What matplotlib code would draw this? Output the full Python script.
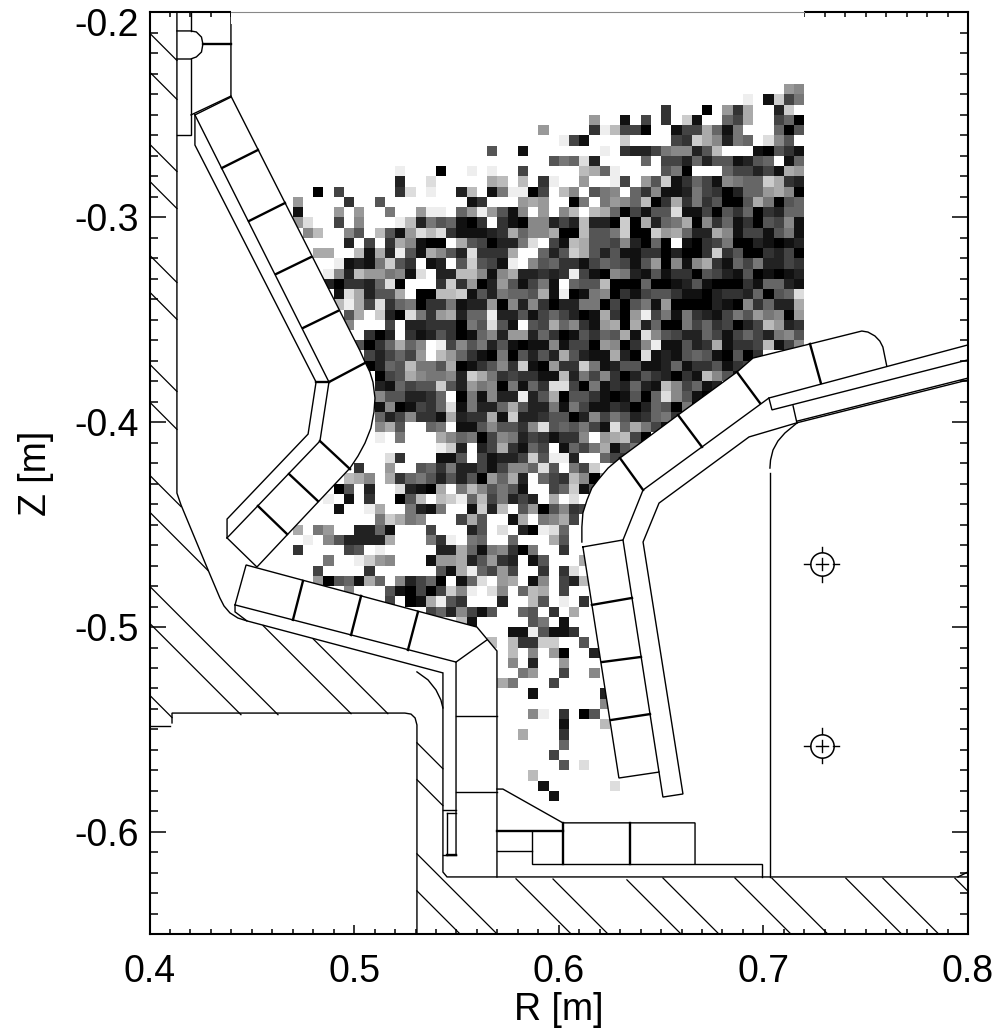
import numpy as np
import matplotlib
matplotlib.use('Agg')
import matplotlib.pyplot as plt
from matplotlib.ticker import FixedLocator, FixedFormatter, MultipleLocator
from matplotlib.transforms import ScaledTranslation

plt.rcParams['font.family'] = ['Liberation Sans', 'DejaVu Sans']

# grey level per cell, row number -> "first column:hex levels" (blank = no data)
cell_size = 0.005
first_col, last_col = 14, 63
first_row, last_row = 7, 77
cell_rows = {
    7: "62:98",
    8: "58:e 60:1c47",
    9: "50:3 54:0 56:93a 61:2c",
    10: "43:9 46:1 48:4 50:3 52:c1 56:64a 61:460",
    11: "38:9 43:3eb440 51:144a617 61:605",
    12: "40:e41 46:cf 51:43ca8276 60:d85",
    13: "33:5 36:1 43:fe 46:322478825bfff10531",
    14: "39:576d2 48:6 50:44262551256 62:16",
    15: "24:e 28:0 31:e 33:e 36:4f 42:ba6e 50:570 56:644241a9",
    16: "24:2ffd 33:ab 36:b 38:3e 42:9 45:e4 48:95c136418766ca32",
    17: "16:0 18:4 24:3dfe 30:2b 33:17ee04 39:fb8 43:578 47:63811274302669a80",
    18: "14:9 19:3f 22:5 31:13 36:9a9 41:07 44:7986b03a3735005a7056",
    19: "14:1 18:9 20:9 23:7 26:9ee 30:69e9518 38:9 40:8b 43:ba604155d114053603266",
    20: "14:9d 18:4 20:8 24:eb2756103 34:31088242b220c0a267a08361305481",
    21: "15:8b 19:85 22:b519dbd311123a688a00b557c00c9a622a81441571",
    22: "17:f 19:2 21:4 23:3a8100 30:a540227df41ba55482060 52:103470021012",
    23: "16:aa 20:b1a2e51a852d333a 38:625ca525113302003c35003240",
    24: "18:e1217c53 27:12 30:5c541e 37:85633146541590818a316472243",
    25: "17:e82b99781d 28:22bb818a22323e4108721513305421501012",
    26: "17:203326d0 28:3c3902951471f655b0006001251000316621",
    27: "18:1da255a 26:00bbc1527665a1e0178031455311023326056d",
    28: "18:bea4d3670337122908283022770405719000021083622a",
    29: "19:5a 22:c20d739a266e2251464201a309e471732147597809",
    30: "19:8 23:4 25:22333075d51 37:54a68319a0a260074634024b923",
    31: "20:f302 25:312530168299263015365a1d854226414642785",
    32: "20:5036a68 28:e48572510118144098038e11523a1334b148",
    33: "21:424649 28:b96310705252a5211a20d12156510503",
    34: "21:0265b775a013583c10933c7125511261335134",
    35: "22:045a87782ca7343311b2748302532031b851",
    36: "22:216455c5297807163dd407132621b84612",
    37: "22:8552236f071822e25a0553101506d8510",
    38: "22:1801436d17226a522717411320265070",
    39: "22:6248331a233a1c2235502847523673",
    40: "22:8a5 27:67f11585538d565741d6a741",
    41: "22:e 24:7 28:a86704872431338f9ab40",
    42: "28:ec2 32:24a3164f1647a157",
    43: "23:d3 27:f115 32:41224c5ee2ff643",
    44: "20:3 23:9f 26:563722414886d5f74c 45:d",
    45: "19:ba8 23:a36752525096a2f643b809",
    46: "18:05 21:2 24:d210a 30:7b85751 39:46c15",
    47: "17:e 19:1 21:3 24:05bfbce6b47242 39:afd 43:7",
    48: "18:1 21:ea 25:7217 31:1c2b 36:5905834",
    49: "19:f 22:7ca78f 30:4a5 35:1a 38:78a4",
    50: "14:a 16:79 20:2261 27:4 31:25 34:d 36:20ed6",
    51: "15:e 17:852222a 27:73e 31:76f 35:6 39:a5",
    52: "14:3 19:45 22:e 28:22a6178307 40:3",
    53: "17:7 20:ec98 25:f 27:199a25932 37:15 42:a",
    54: "16:4f 21:3 28:51ae6494 38:3f3d",
    55: "16:90561a6 24:82460 30:16d 34:9a 37:18 40:42b",
    56: "19:8 22:f510404c8e 33:d8 36:6ba 40:4",
    57: "23:4f01ae53 34:2 37:b5 40:e 42:3",
    58: "27:4628415 36:65f3 41:a",
    59: "30:b1 37:57 40:1",
    60: "35:11e5113",
    61: "33:b 35:b33cc 42:5",
    62: "35:b 37:8 39:90 43:2",
    63: "35:8 37:2 40:9",
    64: "36:79 40:4 43:8",
    65: "34:a7 39:4f",
    66: "37:1 44:2",
    67: "44:8",
    68: "37:8e 40:3 42:05",
    69: "40:1 44:b",
    70: "36:a 40:3",
    71: "40:6f",
    72: "39:4",
    73: "40:5 42:d",
    74: "37:b",
    75: "38:1 45:d",
    76: "39:1",
    77: "43:f",
}

# vessel outline, (R, Z)
upper_plate_outer = [(.4398, -.2408), (.5029, -.3652), (.5053, -.3706), (.5077, -.3755), (.5092, -.3804),
                     (.5102, -.3882), (.5097, -.3951), (.5082, -.4029), (.5053, -.4102), (.5019, -.4165),
                     (.4980, -.4224), (.4525, -.4707), (.4379, -.4565)]
upper_plate_inner = [(.4222, -.2500), (.4877, -.3804), (.4833, -.4092), (.4379, -.4565)]
upper_plate_back = [(.4222, -.2500), (.4222, -.2647), (.4814, -.3804), (.4775, -.4058), (.4379, -.4473),
                    (.4379, -.4565)]
lower_plate_top = [(.4418, -.4892), (.4472, -.4697), (.5600, -.5000), (.5698, -.5117), (.5698, -.6220)]
lower_plate_bottom = [(.4418, -.4892), (.5498, -.5171), (.5498, -.6113)]
outer_plate_top = [(.6113, -.4585), (.6113, -.4512), (.6118, -.4443), (.6138, -.4380), (.6162, -.4321),
                   (.6192, -.4282), (.6241, -.4224), (.6299, -.4175), (.6583, -.3965), (.6871, -.3755),
                   (.6949, -.3687), (.7228, -.3618), (.7481, -.3555), (.7511, -.3560), (.7545, -.3579),
                   (.7569, -.3604), (.7584, -.3633), (.7603, -.3726)]
outer_plate_base = [(.6314, -.4575), (.6412, -.4331), (.7027, -.3882), (.7999, -.3623)]
side_plate = [(.6118, -.4609), (.6314, -.4575), (.6490, -.5708), (.6294, -.5737), (.6118, -.4609)]
inner_wall = [(.4134, -.2002), (.4134, -.4346), (.4154, -.4404), (.4286, -.4721), (.4344, -.4858),
              (.4364, -.4897), (.4393, -.4931), (.4432, -.4956), (.4476, -.4970), (.5434, -.5224),
              (.5434, -.6196), (.5454, -.6220), (.7999, -.6220)]
thin_lines = [
    upper_plate_outer, upper_plate_inner, upper_plate_back, lower_plate_top, lower_plate_bottom,
    outer_plate_top, outer_plate_base, side_plate, inner_wall,
    [(.4201, -.2002), (.4201, -.2090)],
    [(.4134, -.2090), (.4201, -.2090), (.4229, -.2095), (.4254, -.2120), (.4261, -.2154), (.4254, -.2193),
     (.4229, -.2217), (.4201, -.2227), (.4134, -.2227)],
    [(.4201, -.2227), (.4201, -.2598), (.4134, -.2598)],
    [(.4398, -.2002), (.4398, -.2408), (.4203, -.2500)],
    [(.4398, -.2413), (.4222, -.2500)],
    [(.4418, -.4892), (.4418, -.4926), (.4476, -.4970)],
    [(.5649, -.5063), (.5498, -.5171)],
    [(.5434, -.5893), (.5498, -.5893)],
    [(.5454, -.5908), (.5498, -.5908)],
    [(.5454, -.5908), (.5454, -.6113)],
    [(.5434, -.6113), (.5498, -.6113)],
    [(.5498, -.5434), (.5698, -.5434)],
    [(.5498, -.5805), (.5698, -.5805)],
    [(.5698, -.5791), (.5727, -.5791), (.6020, -.5956), (.6666, -.5956), (.6666, -.6157)],
    [(.5698, -.6093), (.5869, -.6093)],
    [(.5869, -.5995), (.5869, -.6157), (.6993, -.6157), (.6993, -.6220)],
    [(.6490, -.5708), (.6509, -.5830), (.6607, -.5815), (.6412, -.4585), (.6490, -.4395), (.6930, -.4072),
     (.7164, -.4003), (.7999, -.3794)],
    [(.7164, -.3995), (.7999, -.3785)],
    [(.7027, -.3882), (.7042, -.3940), (.7999, -.3696)],
    [(.7145, -.3920), (.7164, -.4004)],
    [(.7032, -.6220), (.7032, -.4248)],
    [(.7032, -.4224), (.7035, -.4185), (.7047, -.4136), (.7071, -.4092), (.7105, -.4053), (.7164, -.4004)],
    [(.4100, -.5483), (.4002, -.5483)],
    [(.4110, -.5468), (.4110, -.5420), (.5248, -.5420), (.5278, -.5425), (.5298, -.5444), (.5307, -.5478),
     (.5307, -.6498)],
    [(.5307, -.5219), (.5361, -.5258), (.5400, -.5307), (.5424, -.5356), (.5434, -.5395)],
    [(.7951, -.6220), (.7999, -.6196)],
]
thick_lines = [
    [(.4261, -.2154), (.4398, -.2154)],
    [(.4354, -.2759), (.4530, -.2671)],
    [(.4486, -.3018), (.4662, -.2930)],
    [(.4618, -.3277), (.4789, -.3194)],
    [(.4750, -.3540), (.4921, -.3457)],
    [(.4877, -.3804), (.5053, -.3711)],
    [(.4814, -.3804), (.4877, -.3804)],
    [(.4833, -.4092), (.4980, -.4229)],
    [(.4682, -.4253), (.4823, -.4385)],
    [(.4530, -.4409), (.4672, -.4546)],
    [(.4750, -.4775), (.4701, -.4965)],
    [(.5034, -.4848), (.4985, -.5039)],
    [(.5312, -.4926), (.5263, -.5112)],
    [(.5454, -.6113), (.5498, -.6113)],
    [(.5698, -.5995), (.6020, -.5995)],
    [(.6020, -.5956), (.6020, -.6157)],
    [(.6348, -.5956), (.6348, -.6157)],
    [(.6162, -.4892), (.6358, -.4858)],
    [(.6211, -.5171), (.6402, -.5146)],
    [(.6255, -.5454), (.6446, -.5425)],
    [(.6299, -.4175), (.6412, -.4331)],
    [(.6583, -.3965), (.6700, -.4121)],
    [(.6871, -.3755), (.6983, -.3906)],
    [(.7228, -.3618), (.7281, -.3809)],
]
# 45 degree hatching: R start, R end, Z where the line would meet R=0.4
hatch_lines = [
    (.4, .4134, -.2100), (.4, .4134, -.2290), (.4, .4134, -.2642), (.4, .4134, -.2823),
    (.4, .4134, -.3184), (.4, .4134, -.3364), (.4, .4134, -.3716), (.4, .4134, -.3901),
    (.4, .4154, -.4258), (.4, .4286, -.4438), (.4, .4628, -.4800), (.4, .4447, -.4981), (.4, .4110, -.5332),
    (.4799, .5165, -.4258), (.5307, .5434, -.4258), (.5972, .6250, -.4258),
    (.4555, .4985, -.4438), (.5307, .5434, -.4438), (.5791, .6069, -.4438),
    (.5307, .5703, -.4800), (.5307, .5517, -.4981),
    (.6333, .6612, -.3901), (.6509, .6788, -.3716), (.6861, .7140, -.3364), (.7042, .7320, -.3184),
    (.7403, .7682, -.2823), (.7584, .7863, -.2642), (.7936, .7999, -.2290),
]
coil_R = [.7285, .7285]
coil_Z = [-.4693, -.5580]

x_ticks = [0.4, 0.5, 0.6, 0.7, 0.8]
x_labels = ['0.4', '0.5', '0.6', '0.7', '0.8']
y_ticks = [-0.2, -0.3, -0.4, -0.5, -0.6]
y_labels = ['-0.2', '-0.3', '-0.4', '-0.5', '-0.6']

# unpack the rows into a masked grid
grid = np.full((last_row - first_row + 1, last_col - first_col + 1), np.nan)
for row, text in cell_rows.items():
    for part in text.split():
        start, levels = part.split(':')
        for i, c in enumerate(levels):
            grid[row - first_row, int(start) + i - first_col] = int(c, 16)
r_edges = 0.4 + cell_size * np.arange(first_col, last_col + 2)
z_edges = -0.2 - cell_size * np.arange(first_row, last_row + 2)

fig = plt.figure(figsize=(10, 10.34), dpi=100)
ax = fig.add_axes([0.1495, 1 - 934.3 / 1034, 0.8185, 921.8 / 1034])
ax.pcolormesh(r_edges, z_edges, np.ma.masked_invalid(grid), cmap='gray', vmin=0, vmax=15,
              antialiased=False, zorder=1)

# plates sit on top of the cells
for shape in [upper_plate_outer + upper_plate_inner[::-1],
              lower_plate_top[:4] + [(.5698, -.5340)],
              outer_plate_top + outer_plate_base[2::-1] + [(.6118, -.4609)],
              side_plate]:
    ax.fill([p[0] for p in shape], [p[1] for p in shape], color='white', lw=0, zorder=2)

for seg in thin_lines:
    ax.plot([p[0] for p in seg], [p[1] for p in seg], color='black', lw=1.0, zorder=4,
            solid_joinstyle='miter')
for seg in thick_lines:
    ax.plot([p[0] for p in seg], [p[1] for p in seg], color='black', lw=1.7, zorder=4)
for r0, r1, z0 in hatch_lines:
    ax.plot([r0, r1], [z0 - (r0 - 0.4), z0 - (r1 - 0.4)], color='black', lw=0.9, zorder=3)

# coil crosshairs
arm_in, ring_r, arm_out = 0.0030, 0.0057, 0.0086
for r, z in zip(coil_R, coil_Z):
    ax.plot(r, z, 'o', mfc='none', mec='black', mew=1.1, ms=16.8, zorder=4)
    ax.plot([r - arm_in, r + arm_in], [z, z], color='black', lw=1.0, zorder=4)
    ax.plot([r, r], [z - arm_in, z + arm_in], color='black', lw=1.0, zorder=4)
    for sign in (-1, 1):
        ax.plot([r + sign * ring_r, r + sign * arm_out], [z, z], color='black', lw=1.0, zorder=4)
        ax.plot([r, r], [z + sign * ring_r, z + sign * arm_out], color='black', lw=1.0, zorder=4)

ax.set_xlim(0.4, 0.8)
ax.set_ylim(-0.65, -0.2)
ax.xaxis.set_major_locator(FixedLocator(x_ticks))
ax.xaxis.set_major_formatter(FixedFormatter(x_labels))
ax.yaxis.set_major_locator(FixedLocator(y_ticks))
ax.yaxis.set_major_formatter(FixedFormatter(y_labels))
ax.xaxis.set_minor_locator(MultipleLocator(0.01))
ax.yaxis.set_minor_locator(MultipleLocator(0.01))
ax.tick_params(axis='both', which='both', direction='in', top=True, right=True, width=1.1, labelsize=27)
ax.tick_params(axis='x', which='major', length=6.8, pad=14.5)
ax.tick_params(axis='x', which='minor', length=3.6)
ax.tick_params(axis='y', which='major', length=11.5, pad=8)
ax.tick_params(axis='y', which='minor', length=5.5)
for s in ax.spines.values():
    s.set_linewidth(1.5)
ax.set_xlabel('R [m]', fontsize=27, labelpad=1)
ax.set_ylabel('Z [m]', fontsize=27, labelpad=14)
# top label sits below its tick so it stays on the page
top_label = ax.get_yticklabels()[0]
top_label.set_transform(top_label.get_transform() + ScaledTranslation(0, -6.8 / 72, fig.dpi_scale_trans))

# the image hides the top axis between these two R values
ax.fill([.44, .72, .72, .44], [-.199, -.199, -.2057, -.2057], color='white', lw=0, zorder=5, clip_on=False)
ax.plot([.44, .72], [-.2, -.2], color='#888888', lw=0.8, zorder=6, clip_on=False)

fig.savefig('out.png', dpi=100)
